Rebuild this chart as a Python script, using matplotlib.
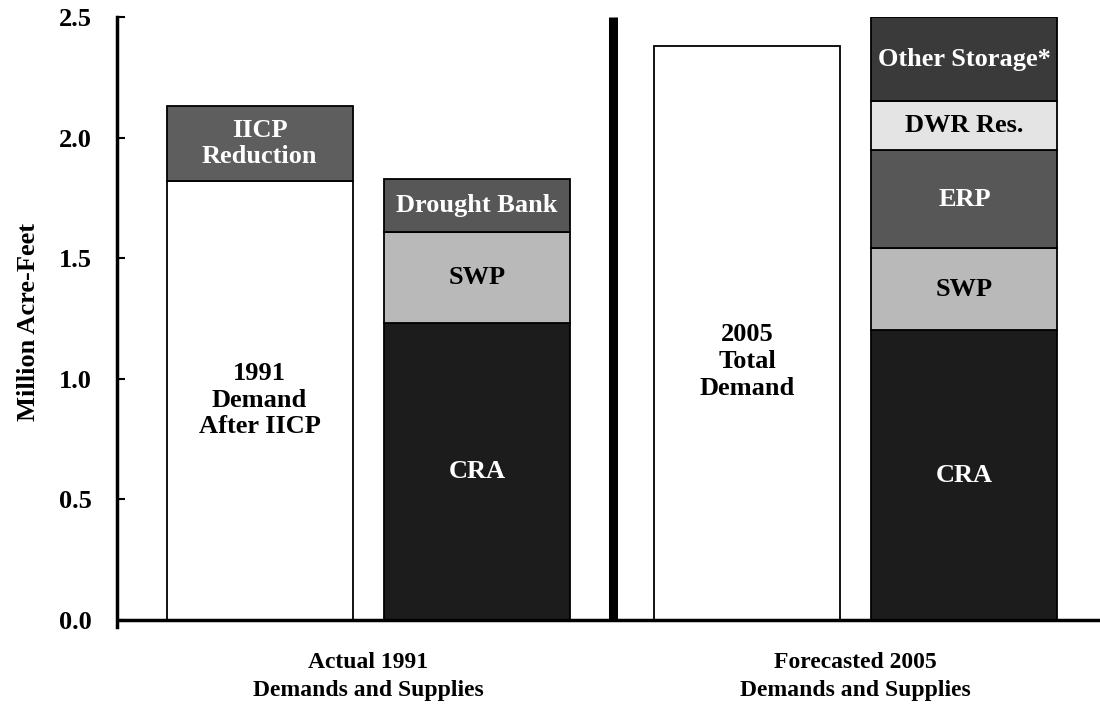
import numpy as np
import matplotlib
matplotlib.use('Agg')
import matplotlib.pyplot as plt

plt.rcParams['font.family'] = ['Liberation Serif', 'DejaVu Serif']
plt.rcParams['font.weight'] = 'bold'

# data (million acre-feet)
groups = ['Actual 1991\nDemands and Supplies', 'Forecasted 2005\nDemands and Supplies']

demand_1991 = [1.82, 0.31]           # demand after IICP, IICP reduction
demand_1991_lbl = ['1991\nDemand\nAfter IICP', 'IICP\nReduction']

supply_1991 = [1.23, 0.38, 0.22]     # CRA, SWP, Drought Bank
supply_1991_lbl = ['CRA', 'SWP', 'Drought Bank']

demand_2005 = [2.38]
demand_2005_lbl = ['2005\nTotal\nDemand']

supply_2005 = [1.20, 0.34, 0.41, 0.20, 0.35]   # CRA, SWP, ERP, DWR, other
supply_2005_lbl = ['CRA', 'SWP', 'ERP', 'DWR Res.', 'Other Storage*']

# styles
col_demand = ['white', '#5e5e5e']
col_sup91 = ['#1c1c1c', '#b9b9b9', '#575757']
col_sup05 = ['#1c1c1c', '#b9b9b9', '#575757', '#e4e4e4', '#3a3a3a']
txt_demand = ['black', 'white']
txt_sup91 = ['white', 'black', 'white']
txt_sup05 = ['white', 'black', 'white', 'black', 'white']

positions = [0.766, 1.935, 3.387, 4.556]
width = 1.0
divider = 2.664

fig = plt.figure(figsize=(11, 7.1), dpi=100)
ax = fig.add_axes([0.1064, 0.1169, 0.8936, 0.8591])


def stack(ax, x, vals, cols, labels, tcols, label_frac=None):
    bottom = 0
    for i, v in enumerate(vals):
        ax.bar(x, v, width, bottom=bottom, color=cols[i],
               edgecolor='black', linewidth=1.3, zorder=2)
        yc = bottom + v / 2
        if label_frac is not None and i == 0:
            yc = bottom + v * label_frac
        ax.text(x, yc, labels[i], ha='center', va='center',
                fontsize=19, fontweight='bold', color=tcols[i],
                linespacing=1.2, zorder=3)
        bottom += v


stack(ax, positions[0], demand_1991, col_demand, demand_1991_lbl, txt_demand)
stack(ax, positions[1], supply_1991, col_sup91, supply_1991_lbl, txt_sup91)
stack(ax, positions[2], demand_2005, ['white'], demand_2005_lbl, ['black'],
      label_frac=0.45)
stack(ax, positions[3], supply_2005, col_sup05, supply_2005_lbl, txt_sup05)

ax.plot([divider, divider], [0, 2.5], color='black', linewidth=6.5,
        solid_capstyle='butt', zorder=4)
ax.axhline(0, color='black', linewidth=2.5, zorder=4)

ax.set_xlim(0, 5.285)
ax.set_ylim(-0.03, 2.5)
ax.set_yticks(np.arange(0, 2.51, 0.5))
ax.set_yticklabels([f'{t:.1f}' for t in np.arange(0, 2.51, 0.5)],
                   fontsize=19, fontweight='bold')
ax.tick_params(axis='y', direction='in', length=6, width=1.5, pad=18)
ax.set_ylabel('Million Acre-Feet', fontsize=19, fontweight='bold', labelpad=14)

centers = [np.mean(positions[:2]), np.mean(positions[2:])]
ax.set_xticks(centers)
ax.set_xticklabels(groups, fontsize=17, fontweight='bold', linespacing=1.45)
ax.tick_params(axis='x', length=0, pad=18)

for s in ['top', 'right', 'bottom']:
    ax.spines[s].set_visible(False)
ax.spines['left'].set_linewidth(2.5)
ax.spines['left'].set_bounds(-0.03, 2.5)

fig.savefig('out.png', dpi=100)
